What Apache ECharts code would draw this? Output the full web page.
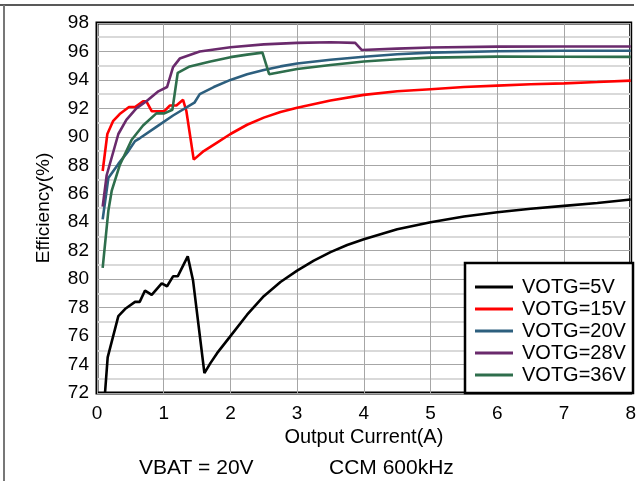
<!DOCTYPE html>
<html>
<head>
<meta charset="utf-8">
<script src="https://cdn.jsdelivr.net/npm/echarts@6/dist/echarts.min.js"></script>
<style>
  html, body { margin: 0; padding: 0; background: #fff; }
  #chart { width: 639px; height: 481px; }
</style>
</head>
<body>
<div id="chart"></div>
<script>
// 数据：输出电流(A) / 效率(%)
var seriesNames = ['VOTG=5V', 'VOTG=15V', 'VOTG=20V', 'VOTG=28V', 'VOTG=36V'];
var seriesColors = ['#000000', '#ff0000', '#2d5f7e', '#6a2a6c', '#2e6e4c'];

var votg5 = [
    [0.12, 72.0], [0.16, 74.5], [0.32, 77.4], [0.42, 77.9], [0.57, 78.4], [0.64, 78.4],
    [0.72, 79.2], [0.82, 78.9], [0.97, 79.7], [1.05, 79.5], [1.14, 80.2], [1.21, 80.2],
    [1.36, 81.6], [1.44, 79.9], [1.61, 73.4], [1.7, 74.1], [1.8, 74.8], [1.9, 75.4],
    [2.0, 76.0], [2.25, 77.5], [2.5, 78.8], [2.75, 79.8], [3.0, 80.6], [3.25, 81.3],
    [3.5, 81.9], [3.75, 82.4], [4.0, 82.8], [4.5, 83.5], [5.0, 84.0], [5.5, 84.4],
    [6.0, 84.7], [6.5, 84.95], [7.0, 85.15], [7.5, 85.35], [8.0, 85.6]
];
var votg15 = [
    [0.085, 87.6], [0.155, 90.2], [0.24, 91.1], [0.34, 91.6], [0.48, 92.1], [0.57, 92.1],
    [0.69, 92.5], [0.74, 92.5], [0.82, 91.8], [0.89, 91.8], [1.01, 91.8], [1.09, 92.2],
    [1.19, 92.2], [1.29, 92.6], [1.34, 91.8], [1.45, 88.4], [1.6, 89.0], [1.8, 89.6],
    [2.0, 90.2], [2.25, 90.85], [2.5, 91.35], [2.75, 91.75], [3.0, 92.05], [3.5, 92.55],
    [4.0, 92.95], [4.5, 93.2], [5.0, 93.35], [5.5, 93.5], [6.0, 93.6], [6.5, 93.7],
    [7.0, 93.76], [7.5, 93.85], [8.0, 93.95]
];
var votg20 = [
    [0.085, 84.2], [0.17, 87.1], [0.32, 88.1], [0.47, 89.0], [0.57, 89.7], [0.64, 89.9],
    [0.89, 90.7], [1.14, 91.5], [1.46, 92.4], [1.54, 93.0], [1.75, 93.5], [2.0, 94.0],
    [2.25, 94.4], [2.5, 94.7], [2.75, 94.95], [3.0, 95.15], [3.5, 95.42], [4.0, 95.63],
    [4.5, 95.8], [5.0, 95.92], [6.0, 96.02], [7.0, 96.05], [8.0, 96.05]
];
var votg28 = [
    [0.085, 85.1], [0.145, 87.3], [0.32, 90.2], [0.44, 91.2], [0.59, 92.0], [0.74, 92.5],
    [0.92, 93.2], [1.05, 93.5], [1.14, 94.9], [1.24, 95.5], [1.54, 96.0], [2.0, 96.3],
    [2.5, 96.5], [3.0, 96.6], [3.5, 96.65], [3.87, 96.6], [3.97, 96.1], [4.5, 96.2],
    [5.0, 96.28], [6.0, 96.34], [7.0, 96.35], [8.0, 96.35]
];
var votg36 = [
    [0.085, 80.8], [0.17, 84.8], [0.22, 86.2], [0.34, 88.0], [0.52, 89.8], [0.69, 90.8],
    [0.89, 91.65], [1.01, 91.65], [1.13, 91.9], [1.21, 94.5], [1.39, 94.95], [1.7, 95.3],
    [2.0, 95.6], [2.25, 95.78], [2.48, 95.92], [2.58, 94.4], [3.0, 94.77], [3.5, 95.05],
    [4.0, 95.3], [4.5, 95.45], [5.0, 95.57], [6.0, 95.64], [7.0, 95.63], [8.0, 95.62]
];
var seriesData = [votg5, votg15, votg20, votg28, votg36];

var xTicks = [0, 8, 1];     // min, max, interval
var yTicks = [72, 98, 2];

var myChart = echarts.init(document.getElementById('chart'));

var series = [];
for (var i = 0; i < seriesData.length; i++) {
    series.push({
        name: seriesNames[i],
        type: 'line',
        data: seriesData[i],
        showSymbol: false,
        lineStyle: { color: seriesColors[i], width: 2.6 },
        itemStyle: { color: seriesColors[i] },
        z: 3
    });
}

var font = 'Liberation Sans, Arial, sans-serif';

var option = {
    animation: false,
    backgroundColor: '#fff',
    grid: {
        left: 97, right: 6, top: 23, bottom: 88,
        show: true, borderColor: '#000', borderWidth: 3
    },
    xAxis: {
        type: 'value',
        min: xTicks[0], max: xTicks[1], interval: xTicks[2],
        name: 'Output Current(A)',
        nameLocation: 'middle',
        nameGap: 34,
        nameTextStyle: { color: '#000', fontSize: 20, fontFamily: font },
        axisLine: { show: false },
        axisTick: { show: false },
        axisLabel: { color: '#000', fontSize: 19, fontFamily: font, margin: 11 },
        splitLine: { show: true, lineStyle: { color: '#a6a6a6', width: 1 } }
    },
    yAxis: {
        type: 'value',
        min: yTicks[0], max: yTicks[1], interval: yTicks[2],
        name: 'Efficiency(%)',
        nameLocation: 'middle',
        nameGap: 44,
        nameTextStyle: { color: '#000', fontSize: 19, fontFamily: font },
        axisLine: { show: false },
        axisTick: { show: false },
        axisLabel: { color: '#000', fontSize: 19, fontFamily: font, margin: 8 },
        splitLine: { show: true, lineStyle: { color: '#a6a6a6', width: 1 } },
        minorTick: { show: false, splitNumber: 2 },
        minorSplitLine: { show: true, lineStyle: { color: '#d9d9d9', width: 2 } }
    },
    legend: {
        orient: 'vertical',
        left: 470,
        top: 272,
        itemWidth: 38,
        itemHeight: 3,
        itemGap: 2,
        icon: 'rect',
        z: 20,
        textStyle: { color: '#000', fontSize: 20, fontFamily: font, padding: [0, 0, 0, 4] },
        data: seriesNames
    },
    graphic: [
        {
            type: 'rect', z: 10,
            shape: { x: 465, y: 263, width: 168, height: 130 },
            style: { fill: '#fff', stroke: '#000', lineWidth: 2.5 }
        },
        {
            type: 'line', z: 10,
            shape: { x1: 0, y1: 5, x2: 634, y2: 5 },
            style: { stroke: '#222', lineWidth: 1.5 }
        },
        {
            type: 'line', z: 10,
            shape: { x1: 4, y1: 5, x2: 4, y2: 481 },
            style: { stroke: '#777', lineWidth: 2 }
        },
        {
            type: 'text', z: 10, left: 139, top: 458,
            style: { text: 'VBAT = 20V', fill: '#000', fontSize: 21, fontFamily: font }
        },
        {
            type: 'text', z: 10, left: 329, top: 458,
            style: { text: 'CCM 600kHz', fill: '#000', fontSize: 21, fontFamily: font }
        }
    ],
    series: series
};

myChart.setOption(option);
</script>
</body>
</html>
